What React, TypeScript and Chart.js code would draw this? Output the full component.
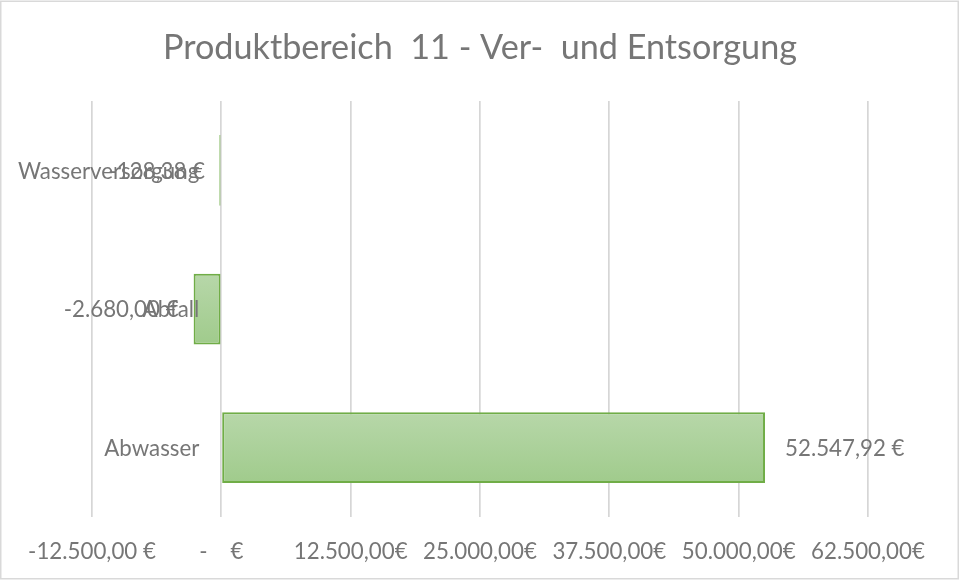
import React, { useEffect, useRef } from "react";
import { Chart, registerables } from "chart.js";

Chart.register(...registerables);

const title = "Produktbereich  11 - Ver-  und Entsorgung";
const categories = ["Wasserversorgung", "Abfall", "Abwasser"];
const values = [-128.38, -2680.0, 52547.92];
const valueLabels = ["-128,38 €", "-2.680,00 €", "52.547,92 €"];
const xTicks = [-12500, 0, 12500, 25000, 37500, 50000, 62500];
const xTickLabels = ["-12.500,00 €", "-    €", "12.500,00€", "25.000,00€", "37.500,00€", "50.000,00€", "62.500,00€"];

const TEXT = "#767676";
const FONT = "Lato";
const BAR_PCT = 0.51;
const LABEL_SIZE = 22.3;

export default function App() {
  const ref = useRef<HTMLCanvasElement | null>(null);

  useEffect(() => {
    const canvas = ref.current;
    if (!canvas) return;

    const labelPlugin = {
      id: "labels",
      beforeDraw(chart: any) {
        const ctx = chart.ctx;
        ctx.save();
        ctx.fillStyle = "#ffffff";
        ctx.fillRect(0, 0, chart.width, chart.height);
        ctx.strokeStyle = "#d9d9d9";
        ctx.lineWidth = 1.5;
        ctx.strokeRect(0.75, 1.25, chart.width - 1.5, chart.height - 2.5);
        ctx.restore();
      },
      afterDraw(chart: any) {
        const ctx = chart.ctx;
        const xs = chart.scales.x;
        const ys = chart.scales.y;
        const zero = xs.getPixelForValue(0);
        ctx.save();
        ctx.fillStyle = TEXT;
        ctx.font = `${LABEL_SIZE}px ${FONT}`;
        ctx.textBaseline = "middle";
        categories.forEach((c, i) => {
          const y = ys.getPixelForValue(i);
          ctx.textAlign = "right";
          ctx.fillText(c, zero - 22, y + 1);
        });
        values.forEach((v, i) => {
          const y = ys.getPixelForValue(i);
          const px = xs.getPixelForValue(v);
          if (v < 0) {
            ctx.textAlign = "right";
            ctx.fillText(valueLabels[i], px - 15, y + 1);
          } else {
            ctx.textAlign = "left";
            ctx.fillText(valueLabels[i], px + 20, y + 1);
          }
        });
        ctx.restore();
      },
    };

    const chart = new Chart(canvas, {
      type: "bar",
      data: {
        labels: categories,
        datasets: [
          {
            data: values,
            backgroundColor: (c: any) => {
              const ch = c.chart;
              const ys = ch.scales && ch.scales.y;
              if (!ys || c.dataIndex === undefined) return "#abd19b";
              const center = ys.getPixelForValue(c.dataIndex);
              const half = (ys.height / categories.length) * BAR_PCT / 2;
              if (!isFinite(center) || !isFinite(half) || half <= 0) return "#abd19b";
              const g = ch.ctx.createLinearGradient(0, center - half, 0, center + half);
              g.addColorStop(0, "#b7d7a9");
              g.addColorStop(1, "#a0cb8c");
              return g;
            },
            borderColor: "#70ad47",
            borderWidth: 2,
            borderSkipped: false,
            minBarLength: 2,
            categoryPercentage: 1,
            barPercentage: BAR_PCT,
          },
        ],
      },
      options: {
        indexAxis: "y",
        responsive: false,
        animation: false,
        devicePixelRatio: 1,
        layout: { padding: { left: 92, right: 91, top: 0, bottom: 0 } },
        plugins: {
          legend: { display: false },
          tooltip: { enabled: false },
          title: {
            display: true,
            text: title,
            color: TEXT,
            font: { family: FONT, size: 34.2, weight: "normal" },
            padding: { top: 27, bottom: 33 },
          },
        },
        scales: {
          x: {
            type: "linear",
            min: -12500,
            max: 62500,
            afterBuildTicks: (s: any) => {
              s.ticks = xTicks.map((v) => ({ value: v }));
            },
            afterFit: (s: any) => {
              s.height = 63;
            },
            grid: { color: "#d6d6d6", lineWidth: 1.7, drawTicks: false },
            border: { display: false },
            ticks: {
              color: TEXT,
              font: { family: FONT, size: LABEL_SIZE },
              padding: 21,
              maxRotation: 0,
              autoSkip: false,
              callback: (v: any) => {
                const idx = xTicks.indexOf(Number(v));
                return idx >= 0 ? xTickLabels[idx] : "";
              },
            },
          },
          y: {
            display: false,
          },
        },
      },
      plugins: [labelPlugin],
    });

    return () => chart.destroy();
  }, []);

  return (
    <div style={{ position: "absolute", left: 0, top: 0, width: 959, height: 580 }}>
      <canvas ref={ref} width={959} height={580} />
    </div>
  );
}
